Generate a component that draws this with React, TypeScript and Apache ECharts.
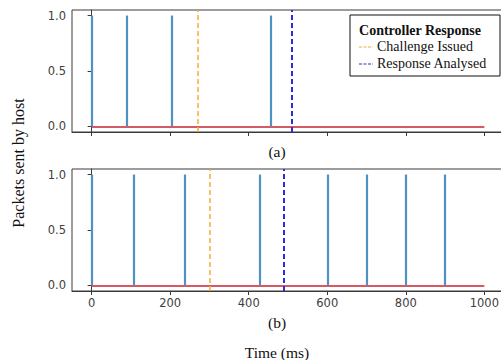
import React, { useEffect, useRef } from "react";
import * as echarts from "echarts";

const xTicks = [0, 200, 400, 600, 800, 1000];
const yTicks = [0, 0.5, 1.0];
const spikesA = [0, 89, 205, 457];
const spikesB = [0, 106, 238, 427, 600, 700, 800, 900];
const challengeA = 270;
const responseA = 510;
const challengeB = 300;
const responseB = 488;
const baselineRange = [0, 1000];
const legendTitle = "Controller Response";
const legendItems = ["Challenge Issued", "Response Analysed"];
const panelLabels = ["(a)", "(b)"];

const BLUE = "#4f91c0";
const RED = "#d45a66";
const ORANGE = "#f2ad33";
const DBLUE = "#2c2ce0";
const SERIF = "Liberation Serif";

export default function App() {
  const ref = useRef<HTMLDivElement>(null);
  useEffect(() => {
    if (!ref.current) return;
    const chart = echarts.init(ref.current, null, { renderer: "svg" });
    const grids = [
      { left: 72, top: 10, width: 432, height: 122 },
      { left: 72, top: 169, width: 432, height: 122 },
    ];
    const mkX = (i: number) => ({
      type: "value",
      gridIndex: i,
      min: -50,
      max: 1050,
      axisLine: { show: true, onZero: false, lineStyle: { color: "#3a3a3a", width: 1 } },
      axisTick: {
        show: true,
        length: 4,
        customValues: xTicks,
        lineStyle: { color: "#3a3a3a" },
      },
      axisLabel: {
        show: i === 1,
        customValues: xTicks,
        formatter: (v: number) => String(v),
        fontFamily: "DejaVu Sans",
        fontSize: 11.5,
        color: "#404040",
        margin: 6,
      },
      splitLine: { show: false },
    });
    const mkY = (i: number) => ({
      type: "value",
      gridIndex: i,
      min: -0.05,
      max: 1.05,
      axisLine: { show: true, lineStyle: { color: "#3a3a3a", width: 1 } },
      axisTick: {
        show: true,
        length: 4,
        customValues: yTicks,
        lineStyle: { color: "#3a3a3a" },
      },
      axisLabel: {
        show: true,
        customValues: yTicks,
        formatter: (v: number) => v.toFixed(1),
        fontFamily: "DejaVu Sans",
        fontSize: 11.5,
        color: "#404040",
        margin: 6,
      },
      splitLine: { show: false },
    });
    const spikeSeries = (i: number, xs: number[]) => ({
      type: "lines",
      coordinateSystem: "cartesian2d",
      xAxisIndex: i,
      yAxisIndex: i,
      lineStyle: { color: BLUE, width: 2.2, opacity: 1 },
      data: xs.map((x) => ({ coords: [[x, 0], [x, 1]] })),
      z: 2,
    });
    const baseSeries = (i: number) => ({
      type: "lines",
      coordinateSystem: "cartesian2d",
      xAxisIndex: i,
      yAxisIndex: i,
      lineStyle: { color: RED, width: 2.2, opacity: 1 },
      data: [{ coords: [[baselineRange[0], 0], [baselineRange[1], 0]] }],
      z: 3,
    });
    const vSeries = (i: number, x: number, color: string, width: number) => ({
      type: "lines",
      coordinateSystem: "cartesian2d",
      xAxisIndex: i,
      yAxisIndex: i,
      lineStyle: { color, width, type: [5, 3], opacity: 1 },
      data: [{ coords: [[x, -0.05], [x, 1.05]] }],
      z: 4,
    });
    const txt = (text: string, x: number, y: number, size: number, extra: any = {}) => ({
      type: "text",
      x,
      y,
      z: 11,
      style: {
        text,
        fontFamily: SERIF,
        fontSize: size,
        fontWeight: extra.bold ? "bold" : "normal",
        fill: "#111",
        align: extra.align || "center",
        verticalAlign: "middle",
      },
    });
    chart.setOption({
      animation: false,
      backgroundColor: "#ffffff",
      grid: grids.map((g) => ({
        ...g,
        show: true,
        borderColor: "#3a3a3a",
        borderWidth: 1,
        backgroundColor: "transparent",
        containLabel: false,
        outerBoundsMode: "none",
      })),
      xAxis: [mkX(0), mkX(1)],
      yAxis: [mkY(0), mkY(1)],
      series: [
        spikeSeries(0, spikesA),
        baseSeries(0),
        vSeries(0, challengeA, ORANGE, 1.5),
        vSeries(0, responseA, DBLUE, 2),
        spikeSeries(1, spikesB),
        baseSeries(1),
        vSeries(1, challengeB, ORANGE, 1.5),
        vSeries(1, responseB, DBLUE, 2),
      ],
      graphic: [
        txt(panelLabels[0], 277, 151, 15.5),
        txt(panelLabels[1], 277, 322, 15.5),
        txt("Time (ms)", 277, 352, 15.5),
        {
          type: "text",
          x: 18,
          y: 163,
          rotation: Math.PI / 2,
          style: {
            text: "Packets sent by host",
            fontFamily: SERIF,
            fontSize: 16,
            fill: "#111",
            align: "center",
            verticalAlign: "middle",
          },
        },
        {
          type: "rect",
          shape: { x: 350, y: 15, width: 150, height: 61 },
          style: { fill: "#fff", stroke: "#111", lineWidth: 1 },
          z: 10,
        },
        txt(legendTitle, 420, 30, 14, { bold: true }),
        {
          type: "line",
          z: 11,
          shape: { x1: 359, y1: 47, x2: 373, y2: 47 },
          style: { stroke: ORANGE, lineWidth: 1.2, lineDash: [3, 1.5] },
        },
        txt(legendItems[0], 377, 46, 14, { align: "left" }),
        {
          type: "line",
          z: 11,
          shape: { x1: 359, y1: 64, x2: 373, y2: 64 },
          style: { stroke: DBLUE, lineWidth: 1.2, lineDash: [3, 1.5] },
        },
        txt(legendItems[1], 377, 63, 14, { align: "left" }),
      ],
    });
    return () => chart.dispose();
  }, []);
  return <div ref={ref} style={{ width: 501, height: 360, position: "absolute", left: 0, top: 0 }} />;
}
